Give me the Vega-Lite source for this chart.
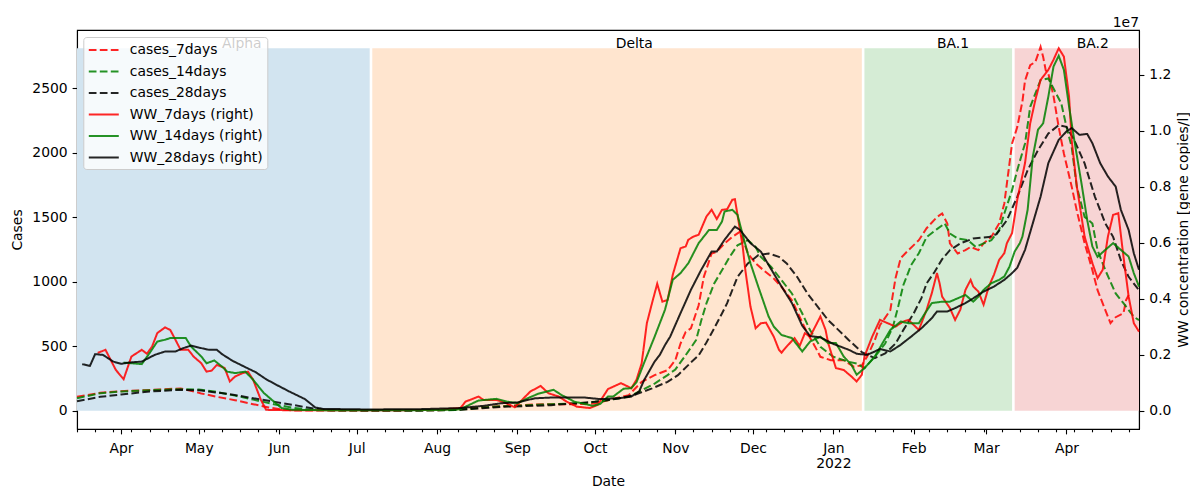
{
"$schema":"https://vega.github.io/schema/vega-lite/v6.json",
"width":1062,"height":399,
"autosize":{"type":"none"},
"padding":{"left":77,"top":30,"right":51,"bottom":59},
"background":"white",
"config":{
 "font":"DejaVu Sans",
 "view":{"stroke":"#000","strokeWidth":1.1},
 "axis":{"labelFontSize":13.9,"titleFontSize":13.9,"titleFontWeight":"normal","labelColor":"#000","titleColor":"#000","tickColor":"#000","domainColor":"#000","grid":false,"tickWidth":1.1,"domainWidth":1.1,"labelFont":"DejaVu Sans","titleFont":"DejaVu Sans","labelFlush":false,"labelOverlap":false,"labelBound":false,"zindex":1},
 "legend":{"labelFontSize":13.9,"labelFont":"DejaVu Sans","labelColor":"#000"}
},
"title":{"text":"1e7","anchor":"end","frame":"group","fontSize":13.9,"fontWeight":"normal","font":"DejaVu Sans","color":"#000","offset":3,"baseline":"bottom","dy":17},
"datasets":{
"spans":[
{"variant":"Alpha","start":"2021-03-15","end":"2021-07-06","mid":"2021-05-10"},
{"variant":"Delta","start":"2021-07-07","end":"2022-01-12","mid":"2021-10-09"},
{"variant":"BA.1","start":"2022-01-13","end":"2022-03-11","mid":"2022-02-10"},
{"variant":"BA.2","start":"2022-03-12","end":"2022-04-29","mid":"2022-04-05"}
],
"cases":[
{"s":"cases_7days","d":"2021-03-15","v":109},{"s":"cases_7days","d":"2021-03-24","v":140},{"s":"cases_7days","d":"2021-04-01","v":153},{"s":"cases_7days","d":"2021-04-10","v":160},{"s":"cases_7days","d":"2021-04-16","v":166},{"s":"cases_7days","d":"2021-04-24","v":174},{"s":"cases_7days","d":"2021-04-28","v":155},{"s":"cases_7days","d":"2021-05-02","v":135},{"s":"cases_7days","d":"2021-05-08","v":109},{"s":"cases_7days","d":"2021-05-15","v":83},{"s":"cases_7days","d":"2021-05-22","v":52},{"s":"cases_7days","d":"2021-05-28","v":26},{"s":"cases_7days","d":"2021-06-02","v":11},{"s":"cases_7days","d":"2021-06-07","v":3},{"s":"cases_7days","d":"2021-06-20","v":2},{"s":"cases_7days","d":"2021-07-05","v":2},{"s":"cases_7days","d":"2021-07-20","v":3},{"s":"cases_7days","d":"2021-08-05","v":6},{"s":"cases_7days","d":"2021-08-13","v":19},{"s":"cases_7days","d":"2021-08-26","v":36},{"s":"cases_7days","d":"2021-09-08","v":50},{"s":"cases_7days","d":"2021-09-17","v":52},{"s":"cases_7days","d":"2021-09-23","v":52},{"s":"cases_7days","d":"2021-10-01","v":57},{"s":"cases_7days","d":"2021-10-06","v":83},{"s":"cases_7days","d":"2021-10-14","v":122},{"s":"cases_7days","d":"2021-10-19","v":225},{"s":"cases_7days","d":"2021-10-24","v":277},{"s":"cases_7days","d":"2021-10-29","v":316},{"s":"cases_7days","d":"2021-11-01","v":393},{"s":"cases_7days","d":"2021-11-03","v":522},{"s":"cases_7days","d":"2021-11-05","v":612},{"s":"cases_7days","d":"2021-11-07","v":639},{"s":"cases_7days","d":"2021-11-10","v":819},{"s":"cases_7days","d":"2021-11-12","v":1039},{"s":"cases_7days","d":"2021-11-15","v":1220},{"s":"cases_7days","d":"2021-11-17","v":1233},{"s":"cases_7days","d":"2021-11-20","v":1298},{"s":"cases_7days","d":"2021-11-23","v":1349},{"s":"cases_7days","d":"2021-11-26","v":1390},{"s":"cases_7days","d":"2021-11-29","v":1220},{"s":"cases_7days","d":"2021-12-02","v":1143},{"s":"cases_7days","d":"2021-12-05","v":1091},{"s":"cases_7days","d":"2021-12-09","v":1026},{"s":"cases_7days","d":"2021-12-12","v":961},{"s":"cases_7days","d":"2021-12-16","v":858},{"s":"cases_7days","d":"2021-12-19","v":729},{"s":"cases_7days","d":"2021-12-22","v":600},{"s":"cases_7days","d":"2021-12-25","v":496},{"s":"cases_7days","d":"2021-12-27","v":419},{"s":"cases_7days","d":"2021-12-31","v":393},{"s":"cases_7days","d":"2022-01-05","v":393},{"s":"cases_7days","d":"2022-01-09","v":341},{"s":"cases_7days","d":"2022-01-12","v":354},{"s":"cases_7days","d":"2022-01-14","v":419},{"s":"cases_7days","d":"2022-01-17","v":548},{"s":"cases_7days","d":"2022-01-19","v":664},{"s":"cases_7days","d":"2022-01-23","v":781},{"s":"cases_7days","d":"2022-01-25","v":1029},{"s":"cases_7days","d":"2022-01-27","v":1184},{"s":"cases_7days","d":"2022-01-30","v":1246},{"s":"cases_7days","d":"2022-02-03","v":1323},{"s":"cases_7days","d":"2022-02-06","v":1416},{"s":"cases_7days","d":"2022-02-10","v":1502},{"s":"cases_7days","d":"2022-02-12","v":1530},{"s":"cases_7days","d":"2022-02-14","v":1453},{"s":"cases_7days","d":"2022-02-15","v":1298},{"s":"cases_7days","d":"2022-02-18","v":1220},{"s":"cases_7days","d":"2022-02-21","v":1246},{"s":"cases_7days","d":"2022-02-23","v":1271},{"s":"cases_7days","d":"2022-02-26","v":1246},{"s":"cases_7days","d":"2022-02-28","v":1298},{"s":"cases_7days","d":"2022-03-03","v":1349},{"s":"cases_7days","d":"2022-03-06","v":1453},{"s":"cases_7days","d":"2022-03-08","v":1608},{"s":"cases_7days","d":"2022-03-10","v":1918},{"s":"cases_7days","d":"2022-03-11","v":2073},{"s":"cases_7days","d":"2022-03-13","v":2200},{"s":"cases_7days","d":"2022-03-15","v":2400},{"s":"cases_7days","d":"2022-03-16","v":2560},{"s":"cases_7days","d":"2022-03-18","v":2680},{"s":"cases_7days","d":"2022-03-20","v":2705},{"s":"cases_7days","d":"2022-03-22","v":2822},{"s":"cases_7days","d":"2022-03-23","v":2744},{"s":"cases_7days","d":"2022-03-24","v":2640},{"s":"cases_7days","d":"2022-03-25","v":2616},{"s":"cases_7days","d":"2022-03-27","v":2440},{"s":"cases_7days","d":"2022-03-29","v":2200},{"s":"cases_7days","d":"2022-03-31","v":1995},{"s":"cases_7days","d":"2022-04-03","v":1740},{"s":"cases_7days","d":"2022-04-05","v":1550},{"s":"cases_7days","d":"2022-04-08","v":1300},{"s":"cases_7days","d":"2022-04-11","v":1091},{"s":"cases_7days","d":"2022-04-13","v":936},{"s":"cases_7days","d":"2022-04-16","v":781},{"s":"cases_7days","d":"2022-04-18","v":680},{"s":"cases_7days","d":"2022-04-20","v":726},{"s":"cases_7days","d":"2022-04-23","v":757},{"s":"cases_7days","d":"2022-04-24","v":858},{"s":"cases_7days","d":"2022-04-25","v":897},
{"s":"cases_14days","d":"2021-03-15","v":98},{"s":"cases_14days","d":"2021-03-24","v":137},{"s":"cases_14days","d":"2021-04-01","v":150},{"s":"cases_14days","d":"2021-04-12","v":160},{"s":"cases_14days","d":"2021-04-22","v":168},{"s":"cases_14days","d":"2021-05-01","v":166},{"s":"cases_14days","d":"2021-05-07","v":150},{"s":"cases_14days","d":"2021-05-15","v":118},{"s":"cases_14days","d":"2021-05-22","v":87},{"s":"cases_14days","d":"2021-05-30","v":52},{"s":"cases_14days","d":"2021-06-06","v":25},{"s":"cases_14days","d":"2021-06-13","v":9},{"s":"cases_14days","d":"2021-06-25","v":3},{"s":"cases_14days","d":"2021-07-10","v":2},{"s":"cases_14days","d":"2021-07-25","v":3},{"s":"cases_14days","d":"2021-08-08","v":6},{"s":"cases_14days","d":"2021-08-20","v":29},{"s":"cases_14days","d":"2021-08-26","v":36},{"s":"cases_14days","d":"2021-09-14","v":52},{"s":"cases_14days","d":"2021-09-28","v":62},{"s":"cases_14days","d":"2021-10-06","v":83},{"s":"cases_14days","d":"2021-10-14","v":109},{"s":"cases_14days","d":"2021-10-19","v":160},{"s":"cases_14days","d":"2021-10-24","v":212},{"s":"cases_14days","d":"2021-10-29","v":277},{"s":"cases_14days","d":"2021-11-01","v":321},{"s":"cases_14days","d":"2021-11-05","v":432},{"s":"cases_14days","d":"2021-11-09","v":548},{"s":"cases_14days","d":"2021-11-11","v":700},{"s":"cases_14days","d":"2021-11-13","v":833},{"s":"cases_14days","d":"2021-11-16","v":988},{"s":"cases_14days","d":"2021-11-19","v":1090},{"s":"cases_14days","d":"2021-11-22","v":1194},{"s":"cases_14days","d":"2021-11-25","v":1284},{"s":"cases_14days","d":"2021-11-29","v":1323},{"s":"cases_14days","d":"2021-12-02","v":1271},{"s":"cases_14days","d":"2021-12-04","v":1194},{"s":"cases_14days","d":"2021-12-08","v":1116},{"s":"cases_14days","d":"2021-12-12","v":1013},{"s":"cases_14days","d":"2021-12-16","v":910},{"s":"cases_14days","d":"2021-12-20","v":755},{"s":"cases_14days","d":"2021-12-23","v":626},{"s":"cases_14days","d":"2021-12-27","v":496},{"s":"cases_14days","d":"2022-01-01","v":419},{"s":"cases_14days","d":"2022-01-07","v":380},{"s":"cases_14days","d":"2022-01-10","v":367},{"s":"cases_14days","d":"2022-01-13","v":331},{"s":"cases_14days","d":"2022-01-17","v":419},{"s":"cases_14days","d":"2022-01-21","v":522},{"s":"cases_14days","d":"2022-01-24","v":651},{"s":"cases_14days","d":"2022-01-26","v":806},{"s":"cases_14days","d":"2022-01-28","v":974},{"s":"cases_14days","d":"2022-01-31","v":1129},{"s":"cases_14days","d":"2022-02-03","v":1222},{"s":"cases_14days","d":"2022-02-06","v":1347},{"s":"cases_14days","d":"2022-02-10","v":1409},{"s":"cases_14days","d":"2022-02-13","v":1453},{"s":"cases_14days","d":"2022-02-15","v":1375},{"s":"cases_14days","d":"2022-02-18","v":1336},{"s":"cases_14days","d":"2022-02-22","v":1323},{"s":"cases_14days","d":"2022-02-25","v":1271},{"s":"cases_14days","d":"2022-02-28","v":1298},{"s":"cases_14days","d":"2022-03-03","v":1323},{"s":"cases_14days","d":"2022-03-06","v":1401},{"s":"cases_14days","d":"2022-03-08","v":1530},{"s":"cases_14days","d":"2022-03-11","v":1711},{"s":"cases_14days","d":"2022-03-13","v":1866},{"s":"cases_14days","d":"2022-03-16","v":2073},{"s":"cases_14days","d":"2022-03-18","v":2357},{"s":"cases_14days","d":"2022-03-20","v":2461},{"s":"cases_14days","d":"2022-03-22","v":2564},{"s":"cases_14days","d":"2022-03-25","v":2577},{"s":"cases_14days","d":"2022-03-27","v":2499},{"s":"cases_14days","d":"2022-03-30","v":2383},{"s":"cases_14days","d":"2022-04-01","v":2202},{"s":"cases_14days","d":"2022-04-03","v":2047},{"s":"cases_14days","d":"2022-04-05","v":1736},{"s":"cases_14days","d":"2022-04-08","v":1504},{"s":"cases_14days","d":"2022-04-11","v":1453},{"s":"cases_14days","d":"2022-04-13","v":1246},{"s":"cases_14days","d":"2022-04-16","v":1091},{"s":"cases_14days","d":"2022-04-20","v":910},{"s":"cases_14days","d":"2022-04-23","v":835},{"s":"cases_14days","d":"2022-04-27","v":729},{"s":"cases_14days","d":"2022-04-29","v":703},
{"s":"cases_28days","d":"2021-03-15","v":75},{"s":"cases_28days","d":"2021-03-24","v":109},{"s":"cases_28days","d":"2021-04-01","v":127},{"s":"cases_28days","d":"2021-04-12","v":150},{"s":"cases_28days","d":"2021-04-24","v":163},{"s":"cases_28days","d":"2021-05-02","v":158},{"s":"cases_28days","d":"2021-05-13","v":129},{"s":"cases_28days","d":"2021-05-25","v":88},{"s":"cases_28days","d":"2021-06-06","v":47},{"s":"cases_28days","d":"2021-06-15","v":16},{"s":"cases_28days","d":"2021-06-21","v":5},{"s":"cases_28days","d":"2021-07-10","v":3},{"s":"cases_28days","d":"2021-07-25","v":3},{"s":"cases_28days","d":"2021-08-10","v":8},{"s":"cases_28days","d":"2021-08-26","v":31},{"s":"cases_28days","d":"2021-09-14","v":44},{"s":"cases_28days","d":"2021-10-01","v":70},{"s":"cases_28days","d":"2021-10-10","v":96},{"s":"cases_28days","d":"2021-10-16","v":122},{"s":"cases_28days","d":"2021-10-23","v":174},{"s":"cases_28days","d":"2021-10-29","v":225},{"s":"cases_28days","d":"2021-11-02","v":277},{"s":"cases_28days","d":"2021-11-07","v":375},{"s":"cases_28days","d":"2021-11-10","v":430},{"s":"cases_28days","d":"2021-11-13","v":530},{"s":"cases_28days","d":"2021-11-16","v":640},{"s":"cases_28days","d":"2021-11-19","v":755},{"s":"cases_28days","d":"2021-11-21","v":835},{"s":"cases_28days","d":"2021-11-25","v":1039},{"s":"cases_28days","d":"2021-11-29","v":1143},{"s":"cases_28days","d":"2021-12-03","v":1207},{"s":"cases_28days","d":"2021-12-07","v":1220},{"s":"cases_28days","d":"2021-12-11","v":1194},{"s":"cases_28days","d":"2021-12-14","v":1143},{"s":"cases_28days","d":"2021-12-18","v":1039},{"s":"cases_28days","d":"2021-12-22","v":910},{"s":"cases_28days","d":"2021-12-26","v":806},{"s":"cases_28days","d":"2021-12-30","v":703},{"s":"cases_28days","d":"2022-01-03","v":626},{"s":"cases_28days","d":"2022-01-07","v":548},{"s":"cases_28days","d":"2022-01-12","v":455},{"s":"cases_28days","d":"2022-01-17","v":409},{"s":"cases_28days","d":"2022-01-21","v":445},{"s":"cases_28days","d":"2022-01-25","v":522},{"s":"cases_28days","d":"2022-01-28","v":626},{"s":"cases_28days","d":"2022-02-01","v":755},{"s":"cases_28days","d":"2022-02-04","v":874},{"s":"cases_28days","d":"2022-02-06","v":988},{"s":"cases_28days","d":"2022-02-09","v":1075},{"s":"cases_28days","d":"2022-02-12","v":1176},{"s":"cases_28days","d":"2022-02-15","v":1246},{"s":"cases_28days","d":"2022-02-19","v":1298},{"s":"cases_28days","d":"2022-02-24","v":1336},{"s":"cases_28days","d":"2022-03-02","v":1347},{"s":"cases_28days","d":"2022-03-05","v":1370},{"s":"cases_28days","d":"2022-03-09","v":1478},{"s":"cases_28days","d":"2022-03-13","v":1659},{"s":"cases_28days","d":"2022-03-17","v":1866},{"s":"cases_28days","d":"2022-03-21","v":2021},{"s":"cases_28days","d":"2022-03-25","v":2150},{"s":"cases_28days","d":"2022-03-29","v":2215},{"s":"cases_28days","d":"2022-04-01","v":2202},{"s":"cases_28days","d":"2022-04-04","v":2099},{"s":"cases_28days","d":"2022-04-08","v":1918},{"s":"cases_28days","d":"2022-04-12","v":1659},{"s":"cases_28days","d":"2022-04-16","v":1453},{"s":"cases_28days","d":"2022-04-19","v":1349},{"s":"cases_28days","d":"2022-04-22","v":1168},{"s":"cases_28days","d":"2022-04-25","v":1039},{"s":"cases_28days","d":"2022-04-29","v":936}
],
"ww":[
{"s":"WW_7days","d":"2021-03-23","v":2070000},{"s":"WW_7days","d":"2021-03-26","v":2180000},{"s":"WW_7days","d":"2021-03-30","v":1460000},{"s":"WW_7days","d":"2021-04-02","v":1130000},{"s":"WW_7days","d":"2021-04-05","v":1940000},{"s":"WW_7days","d":"2021-04-09","v":2180000},{"s":"WW_7days","d":"2021-04-11","v":2040000},{"s":"WW_7days","d":"2021-04-13","v":2300000},{"s":"WW_7days","d":"2021-04-15","v":2780000},{"s":"WW_7days","d":"2021-04-18","v":2980000},{"s":"WW_7days","d":"2021-04-20","v":2890000},{"s":"WW_7days","d":"2021-04-22","v":2540000},{"s":"WW_7days","d":"2021-04-24","v":2180000},{"s":"WW_7days","d":"2021-04-27","v":2180000},{"s":"WW_7days","d":"2021-04-29","v":1940000},{"s":"WW_7days","d":"2021-05-02","v":1700000},{"s":"WW_7days","d":"2021-05-04","v":1400000},{"s":"WW_7days","d":"2021-05-06","v":1440000},{"s":"WW_7days","d":"2021-05-08","v":1640000},{"s":"WW_7days","d":"2021-05-11","v":1530000},{"s":"WW_7days","d":"2021-05-13","v":1050000},{"s":"WW_7days","d":"2021-05-15","v":1225000},{"s":"WW_7days","d":"2021-05-18","v":1350000},{"s":"WW_7days","d":"2021-05-20","v":1400000},{"s":"WW_7days","d":"2021-05-22","v":1110000},{"s":"WW_7days","d":"2021-05-25","v":390000},{"s":"WW_7days","d":"2021-05-27","v":40000},{"s":"WW_7days","d":"2021-05-29","v":30000},{"s":"WW_7days","d":"2021-06-10","v":20000},{"s":"WW_7days","d":"2021-06-25","v":20000},{"s":"WW_7days","d":"2021-07-10","v":20000},{"s":"WW_7days","d":"2021-07-25","v":30000},{"s":"WW_7days","d":"2021-08-02","v":40000},{"s":"WW_7days","d":"2021-08-10","v":100000},{"s":"WW_7days","d":"2021-08-12","v":330000},{"s":"WW_7days","d":"2021-08-17","v":510000},{"s":"WW_7days","d":"2021-08-19","v":390000},{"s":"WW_7days","d":"2021-08-24","v":390000},{"s":"WW_7days","d":"2021-08-27","v":300000},{"s":"WW_7days","d":"2021-08-31","v":130000},{"s":"WW_7days","d":"2021-09-06","v":690000},{"s":"WW_7days","d":"2021-09-10","v":890000},{"s":"WW_7days","d":"2021-09-13","v":630000},{"s":"WW_7days","d":"2021-09-17","v":510000},{"s":"WW_7days","d":"2021-09-20","v":330000},{"s":"WW_7days","d":"2021-09-24","v":150000},{"s":"WW_7days","d":"2021-09-29","v":100000},{"s":"WW_7days","d":"2021-10-02","v":210000},{"s":"WW_7days","d":"2021-10-06","v":780000},{"s":"WW_7days","d":"2021-10-11","v":990000},{"s":"WW_7days","d":"2021-10-15","v":810000},{"s":"WW_7days","d":"2021-10-17","v":1110000},{"s":"WW_7days","d":"2021-10-19","v":1700000},{"s":"WW_7days","d":"2021-10-21","v":3130000},{"s":"WW_7days","d":"2021-10-23","v":3850000},{"s":"WW_7days","d":"2021-10-25","v":4540000},{"s":"WW_7days","d":"2021-10-27","v":3900000},{"s":"WW_7days","d":"2021-10-29","v":3960000},{"s":"WW_7days","d":"2021-10-31","v":4860000},{"s":"WW_7days","d":"2021-11-03","v":5810000},{"s":"WW_7days","d":"2021-11-05","v":5870000},{"s":"WW_7days","d":"2021-11-06","v":6110000},{"s":"WW_7days","d":"2021-11-08","v":6225000},{"s":"WW_7days","d":"2021-11-10","v":6290000},{"s":"WW_7days","d":"2021-11-13","v":6940000},{"s":"WW_7days","d":"2021-11-15","v":7180000},{"s":"WW_7days","d":"2021-11-17","v":6850000},{"s":"WW_7days","d":"2021-11-19","v":7180000},{"s":"WW_7days","d":"2021-11-21","v":7200000},{"s":"WW_7days","d":"2021-11-23","v":7540000},{"s":"WW_7days","d":"2021-11-24","v":7560000},{"s":"WW_7days","d":"2021-11-27","v":5870000},{"s":"WW_7days","d":"2021-11-28","v":5040000},{"s":"WW_7days","d":"2021-11-30","v":3725000},{"s":"WW_7days","d":"2021-12-02","v":2950000},{"s":"WW_7days","d":"2021-12-04","v":3130000},{"s":"WW_7days","d":"2021-12-06","v":3150000},{"s":"WW_7days","d":"2021-12-09","v":2650000},{"s":"WW_7days","d":"2021-12-11","v":2180000},{"s":"WW_7days","d":"2021-12-12","v":2080000},{"s":"WW_7days","d":"2021-12-14","v":2300000},{"s":"WW_7days","d":"2021-12-17","v":2600000},{"s":"WW_7days","d":"2021-12-19","v":2320000},{"s":"WW_7days","d":"2021-12-21","v":2775000},{"s":"WW_7days","d":"2021-12-23","v":2650000},{"s":"WW_7days","d":"2021-12-27","v":3370000},{"s":"WW_7days","d":"2021-12-29","v":2890000},{"s":"WW_7days","d":"2021-12-30","v":2420000},{"s":"WW_7days","d":"2022-01-02","v":1525000},{"s":"WW_7days","d":"2022-01-05","v":1460000},{"s":"WW_7days","d":"2022-01-08","v":1225000},{"s":"WW_7days","d":"2022-01-10","v":1050000},{"s":"WW_7days","d":"2022-01-12","v":1290000},{"s":"WW_7days","d":"2022-01-13","v":1940000},{"s":"WW_7days","d":"2022-01-16","v":2650000},{"s":"WW_7days","d":"2022-01-19","v":3250000},{"s":"WW_7days","d":"2022-01-25","v":3010000},{"s":"WW_7days","d":"2022-01-28","v":3190000},{"s":"WW_7days","d":"2022-01-30","v":3250000},{"s":"WW_7days","d":"2022-02-03","v":2890000},{"s":"WW_7days","d":"2022-02-06","v":3610000},{"s":"WW_7days","d":"2022-02-08","v":4200000},{"s":"WW_7days","d":"2022-02-10","v":4920000},{"s":"WW_7days","d":"2022-02-11","v":4560000},{"s":"WW_7days","d":"2022-02-12","v":4080000},{"s":"WW_7days","d":"2022-02-15","v":3670000},{"s":"WW_7days","d":"2022-02-17","v":3250000},{"s":"WW_7days","d":"2022-02-19","v":3610000},{"s":"WW_7days","d":"2022-02-21","v":4320000},{"s":"WW_7days","d":"2022-02-23","v":4680000},{"s":"WW_7days","d":"2022-02-24","v":4440000},{"s":"WW_7days","d":"2022-02-26","v":4260000},{"s":"WW_7days","d":"2022-02-28","v":3790000},{"s":"WW_7days","d":"2022-03-02","v":4440000},{"s":"WW_7days","d":"2022-03-04","v":4860000},{"s":"WW_7days","d":"2022-03-06","v":5390000},{"s":"WW_7days","d":"2022-03-08","v":5630000},{"s":"WW_7days","d":"2022-03-09","v":5990000},{"s":"WW_7days","d":"2022-03-11","v":6350000},{"s":"WW_7days","d":"2022-03-13","v":7540000},{"s":"WW_7days","d":"2022-03-16","v":8850000},{"s":"WW_7days","d":"2022-03-18","v":10275000},{"s":"WW_7days","d":"2022-03-20","v":11110000},{"s":"WW_7days","d":"2022-03-22","v":11820000},{"s":"WW_7days","d":"2022-03-25","v":12180000},{"s":"WW_7days","d":"2022-03-27","v":12540000},{"s":"WW_7days","d":"2022-03-29","v":12950000},{"s":"WW_7days","d":"2022-03-31","v":12650000},{"s":"WW_7days","d":"2022-04-02","v":11225000},{"s":"WW_7days","d":"2022-04-03","v":9680000},{"s":"WW_7days","d":"2022-04-05","v":8010000},{"s":"WW_7days","d":"2022-04-08","v":6225000},{"s":"WW_7days","d":"2022-04-11","v":5275000},{"s":"WW_7days","d":"2022-04-13","v":4740000},{"s":"WW_7days","d":"2022-04-15","v":5040000},{"s":"WW_7days","d":"2022-04-17","v":6225000},{"s":"WW_7days","d":"2022-04-19","v":7000000},{"s":"WW_7days","d":"2022-04-21","v":7060000},{"s":"WW_7days","d":"2022-04-23","v":5510000},{"s":"WW_7days","d":"2022-04-25","v":4080000},{"s":"WW_7days","d":"2022-04-27","v":3130000},{"s":"WW_7days","d":"2022-04-29","v":2830000},
{"s":"WW_14days","d":"2021-04-02","v":1725000},{"s":"WW_14days","d":"2021-04-05","v":1700000},{"s":"WW_14days","d":"2021-04-09","v":1670000},{"s":"WW_14days","d":"2021-04-12","v":2060000},{"s":"WW_14days","d":"2021-04-15","v":2475000},{"s":"WW_14days","d":"2021-04-18","v":2540000},{"s":"WW_14days","d":"2021-04-20","v":2600000},{"s":"WW_14days","d":"2021-04-26","v":2600000},{"s":"WW_14days","d":"2021-04-28","v":2300000},{"s":"WW_14days","d":"2021-05-02","v":1940000},{"s":"WW_14days","d":"2021-05-04","v":1700000},{"s":"WW_14days","d":"2021-05-07","v":1800000},{"s":"WW_14days","d":"2021-05-10","v":1580000},{"s":"WW_14days","d":"2021-05-12","v":1400000},{"s":"WW_14days","d":"2021-05-15","v":1350000},{"s":"WW_14days","d":"2021-05-19","v":1400000},{"s":"WW_14days","d":"2021-05-22","v":1110000},{"s":"WW_14days","d":"2021-05-26","v":650000},{"s":"WW_14days","d":"2021-05-30","v":330000},{"s":"WW_14days","d":"2021-06-02","v":100000},{"s":"WW_14days","d":"2021-06-06","v":40000},{"s":"WW_14days","d":"2021-06-20","v":20000},{"s":"WW_14days","d":"2021-07-05","v":20000},{"s":"WW_14days","d":"2021-07-20","v":20000},{"s":"WW_14days","d":"2021-08-08","v":40000},{"s":"WW_14days","d":"2021-08-10","v":60000},{"s":"WW_14days","d":"2021-08-17","v":370000},{"s":"WW_14days","d":"2021-08-24","v":430000},{"s":"WW_14days","d":"2021-08-28","v":330000},{"s":"WW_14days","d":"2021-09-01","v":275000},{"s":"WW_14days","d":"2021-09-05","v":450000},{"s":"WW_14days","d":"2021-09-09","v":610000},{"s":"WW_14days","d":"2021-09-15","v":750000},{"s":"WW_14days","d":"2021-09-18","v":570000},{"s":"WW_14days","d":"2021-09-23","v":330000},{"s":"WW_14days","d":"2021-09-30","v":180000},{"s":"WW_14days","d":"2021-10-03","v":250000},{"s":"WW_14days","d":"2021-10-06","v":510000},{"s":"WW_14days","d":"2021-10-08","v":510000},{"s":"WW_14days","d":"2021-10-12","v":790000},{"s":"WW_14days","d":"2021-10-15","v":810000},{"s":"WW_14days","d":"2021-10-17","v":1020000},{"s":"WW_14days","d":"2021-10-20","v":1730000},{"s":"WW_14days","d":"2021-10-24","v":2650000},{"s":"WW_14days","d":"2021-10-25","v":2890000},{"s":"WW_14days","d":"2021-10-28","v":3610000},{"s":"WW_14days","d":"2021-10-31","v":4680000},{"s":"WW_14days","d":"2021-11-03","v":4920000},{"s":"WW_14days","d":"2021-11-06","v":5270000},{"s":"WW_14days","d":"2021-11-10","v":5990000},{"s":"WW_14days","d":"2021-11-14","v":6460000},{"s":"WW_14days","d":"2021-11-17","v":6460000},{"s":"WW_14days","d":"2021-11-19","v":6760000},{"s":"WW_14days","d":"2021-11-20","v":7120000},{"s":"WW_14days","d":"2021-11-23","v":7180000},{"s":"WW_14days","d":"2021-11-25","v":7000000},{"s":"WW_14days","d":"2021-11-27","v":6290000},{"s":"WW_14days","d":"2021-11-30","v":5270000},{"s":"WW_14days","d":"2021-12-03","v":4440000},{"s":"WW_14days","d":"2021-12-07","v":3370000},{"s":"WW_14days","d":"2021-12-09","v":3010000},{"s":"WW_14days","d":"2021-12-12","v":2710000},{"s":"WW_14days","d":"2021-12-16","v":2600000},{"s":"WW_14days","d":"2021-12-20","v":2120000},{"s":"WW_14days","d":"2021-12-23","v":2475000},{"s":"WW_14days","d":"2021-12-27","v":2650000},{"s":"WW_14days","d":"2021-12-30","v":2420000},{"s":"WW_14days","d":"2022-01-02","v":2420000},{"s":"WW_14days","d":"2022-01-05","v":1940000},{"s":"WW_14days","d":"2022-01-08","v":1640000},{"s":"WW_14days","d":"2022-01-10","v":1290000},{"s":"WW_14days","d":"2022-01-13","v":1525000},{"s":"WW_14days","d":"2022-01-17","v":1940000},{"s":"WW_14days","d":"2022-01-20","v":2420000},{"s":"WW_14days","d":"2022-01-23","v":2890000},{"s":"WW_14days","d":"2022-01-27","v":3190000},{"s":"WW_14days","d":"2022-01-30","v":3130000},{"s":"WW_14days","d":"2022-02-03","v":3130000},{"s":"WW_14days","d":"2022-02-05","v":3430000},{"s":"WW_14days","d":"2022-02-08","v":3850000},{"s":"WW_14days","d":"2022-02-12","v":3900000},{"s":"WW_14days","d":"2022-02-15","v":3900000},{"s":"WW_14days","d":"2022-02-18","v":4020000},{"s":"WW_14days","d":"2022-02-21","v":4140000},{"s":"WW_14days","d":"2022-02-24","v":3900000},{"s":"WW_14days","d":"2022-02-26","v":4080000},{"s":"WW_14days","d":"2022-02-28","v":4320000},{"s":"WW_14days","d":"2022-03-03","v":4560000},{"s":"WW_14days","d":"2022-03-06","v":4680000},{"s":"WW_14days","d":"2022-03-08","v":4800000},{"s":"WW_14days","d":"2022-03-10","v":5150000},{"s":"WW_14days","d":"2022-03-12","v":5690000},{"s":"WW_14days","d":"2022-03-14","v":5990000},{"s":"WW_14days","d":"2022-03-15","v":6225000},{"s":"WW_14days","d":"2022-03-17","v":7180000},{"s":"WW_14days","d":"2022-03-19","v":9080000},{"s":"WW_14days","d":"2022-03-21","v":10040000},{"s":"WW_14days","d":"2022-03-23","v":10270000},{"s":"WW_14days","d":"2022-03-25","v":11225000},{"s":"WW_14days","d":"2022-03-27","v":12300000},{"s":"WW_14days","d":"2022-03-29","v":12680000},{"s":"WW_14days","d":"2022-03-31","v":12180000},{"s":"WW_14days","d":"2022-04-02","v":10870000},{"s":"WW_14days","d":"2022-04-04","v":9680000},{"s":"WW_14days","d":"2022-04-07","v":8010000},{"s":"WW_14days","d":"2022-04-09","v":6820000},{"s":"WW_14days","d":"2022-04-11","v":5870000},{"s":"WW_14days","d":"2022-04-13","v":5500000},{"s":"WW_14days","d":"2022-04-16","v":5750000},{"s":"WW_14days","d":"2022-04-19","v":5990000},{"s":"WW_14days","d":"2022-04-22","v":5750000},{"s":"WW_14days","d":"2022-04-25","v":5510000},{"s":"WW_14days","d":"2022-04-27","v":4920000},{"s":"WW_14days","d":"2022-04-29","v":4440000},
{"s":"WW_28days","d":"2021-03-17","v":1668000},{"s":"WW_28days","d":"2021-03-20","v":1607000},{"s":"WW_28days","d":"2021-03-22","v":2025000},{"s":"WW_28days","d":"2021-03-25","v":2000000},{"s":"WW_28days","d":"2021-03-29","v":1760000},{"s":"WW_28days","d":"2021-04-01","v":1680000},{"s":"WW_28days","d":"2021-04-04","v":1725000},{"s":"WW_28days","d":"2021-04-09","v":1760000},{"s":"WW_28days","d":"2021-04-14","v":2000000},{"s":"WW_28days","d":"2021-04-18","v":2120000},{"s":"WW_28days","d":"2021-04-22","v":2120000},{"s":"WW_28days","d":"2021-04-25","v":2240000},{"s":"WW_28days","d":"2021-04-28","v":2330000},{"s":"WW_28days","d":"2021-05-01","v":2260000},{"s":"WW_28days","d":"2021-05-05","v":2180000},{"s":"WW_28days","d":"2021-05-08","v":2180000},{"s":"WW_28days","d":"2021-05-10","v":2025000},{"s":"WW_28days","d":"2021-05-14","v":1790000},{"s":"WW_28days","d":"2021-05-19","v":1560000},{"s":"WW_28days","d":"2021-05-23","v":1380000},{"s":"WW_28days","d":"2021-05-27","v":1130000},{"s":"WW_28days","d":"2021-05-31","v":930000},{"s":"WW_28days","d":"2021-06-05","v":690000},{"s":"WW_28days","d":"2021-06-11","v":420000},{"s":"WW_28days","d":"2021-06-15","v":120000},{"s":"WW_28days","d":"2021-06-18","v":70000},{"s":"WW_28days","d":"2021-07-05","v":50000},{"s":"WW_28days","d":"2021-07-25","v":60000},{"s":"WW_28days","d":"2021-08-10","v":100000},{"s":"WW_28days","d":"2021-08-19","v":180000},{"s":"WW_28days","d":"2021-08-26","v":275000},{"s":"WW_28days","d":"2021-09-01","v":300000},{"s":"WW_28days","d":"2021-09-05","v":390000},{"s":"WW_28days","d":"2021-09-08","v":450000},{"s":"WW_28days","d":"2021-09-14","v":475000},{"s":"WW_28days","d":"2021-09-27","v":475000},{"s":"WW_28days","d":"2021-10-03","v":420000},{"s":"WW_28days","d":"2021-10-10","v":450000},{"s":"WW_28days","d":"2021-10-15","v":510000},{"s":"WW_28days","d":"2021-10-18","v":690000},{"s":"WW_28days","d":"2021-10-20","v":1110000},{"s":"WW_28days","d":"2021-10-24","v":1760000},{"s":"WW_28days","d":"2021-10-26","v":2000000},{"s":"WW_28days","d":"2021-10-28","v":2350000},{"s":"WW_28days","d":"2021-10-30","v":2650000},{"s":"WW_28days","d":"2021-11-03","v":3490000},{"s":"WW_28days","d":"2021-11-07","v":4320000},{"s":"WW_28days","d":"2021-11-11","v":5040000},{"s":"WW_28days","d":"2021-11-15","v":5690000},{"s":"WW_28days","d":"2021-11-17","v":5690000},{"s":"WW_28days","d":"2021-11-20","v":6110000},{"s":"WW_28days","d":"2021-11-22","v":6350000},{"s":"WW_28days","d":"2021-11-24","v":6580000},{"s":"WW_28days","d":"2021-11-26","v":6460000},{"s":"WW_28days","d":"2021-11-30","v":5990000},{"s":"WW_28days","d":"2021-12-04","v":5690000},{"s":"WW_28days","d":"2021-12-07","v":5210000},{"s":"WW_28days","d":"2021-12-12","v":4440000},{"s":"WW_28days","d":"2021-12-16","v":3850000},{"s":"WW_28days","d":"2021-12-20","v":3040000},{"s":"WW_28days","d":"2021-12-23","v":2670000},{"s":"WW_28days","d":"2021-12-27","v":2625000},{"s":"WW_28days","d":"2022-01-01","v":2390000},{"s":"WW_28days","d":"2022-01-07","v":2180000},{"s":"WW_28days","d":"2022-01-10","v":2040000},{"s":"WW_28days","d":"2022-01-14","v":2000000},{"s":"WW_28days","d":"2022-01-17","v":2120000},{"s":"WW_28days","d":"2022-01-19","v":2210000},{"s":"WW_28days","d":"2022-01-23","v":2120000},{"s":"WW_28days","d":"2022-01-27","v":2360000},{"s":"WW_28days","d":"2022-01-31","v":2650000},{"s":"WW_28days","d":"2022-02-04","v":2950000},{"s":"WW_28days","d":"2022-02-08","v":3310000},{"s":"WW_28days","d":"2022-02-10","v":3550000},{"s":"WW_28days","d":"2022-02-14","v":3550000},{"s":"WW_28days","d":"2022-02-17","v":3670000},{"s":"WW_28days","d":"2022-02-21","v":3850000},{"s":"WW_28days","d":"2022-02-24","v":4020000},{"s":"WW_28days","d":"2022-02-28","v":4260000},{"s":"WW_28days","d":"2022-03-04","v":4440000},{"s":"WW_28days","d":"2022-03-08","v":4680000},{"s":"WW_28days","d":"2022-03-11","v":4920000},{"s":"WW_28days","d":"2022-03-13","v":5110000},{"s":"WW_28days","d":"2022-03-16","v":5750000},{"s":"WW_28days","d":"2022-03-19","v":6700000},{"s":"WW_28days","d":"2022-03-22","v":7650000},{"s":"WW_28days","d":"2022-03-25","v":8850000},{"s":"WW_28days","d":"2022-03-29","v":9680000},{"s":"WW_28days","d":"2022-04-01","v":9980000},{"s":"WW_28days","d":"2022-04-03","v":10100000},{"s":"WW_28days","d":"2022-04-06","v":9860000},{"s":"WW_28days","d":"2022-04-09","v":9890000},{"s":"WW_28days","d":"2022-04-11","v":9560000},{"s":"WW_28days","d":"2022-04-14","v":8850000},{"s":"WW_28days","d":"2022-04-17","v":8370000},{"s":"WW_28days","d":"2022-04-20","v":8010000},{"s":"WW_28days","d":"2022-04-22","v":7180000},{"s":"WW_28days","d":"2022-04-25","v":6460000},{"s":"WW_28days","d":"2022-04-27","v":5630000},{"s":"WW_28days","d":"2022-04-29","v":5040000}
]
},
"layer":[
{"data":{"name":"spans"},
 "mark":{"type":"rect"},
 "encoding":{
  "x":{"field":"start","type":"temporal","scale":{"type":"utc","nice":false,"domain":[{"year":2021,"month":3,"date":15,"utc":true},{"year":2022,"month":4,"date":29,"utc":true}]},
   "axis":{"orient":"bottom","values":[1615766400000,1616371200000,1616976000000,1617580800000,1618185600000,1618790400000,1619395200000,1620000000000,1620604800000,1621209600000,1621814400000,1622419200000,1623024000000,1623628800000,1624233600000,1624838400000,1625443200000,1626048000000,1626652800000,1627257600000,1627862400000,1628467200000,1629072000000,1629676800000,1630281600000,1630886400000,1631491200000,1632096000000,1632700800000,1633305600000,1633910400000,1634515200000,1635120000000,1635724800000,1636329600000,1636934400000,1637539200000,1638144000000,1638748800000,1639353600000,1639958400000,1640563200000,1641168000000,1641772800000,1642377600000,1642982400000,1643587200000,1644192000000,1644796800000,1645401600000,1646006400000,1646611200000,1647216000000,1647820800000,1648425600000,1649030400000,1649635200000,1650240000000,1650844800000],"labels":false,"domain":false,"tickSize":2.8,"title":null}},
  "x2":{"field":"end"},
  "y":{"datum":0,"type":"quantitative","scale":{"domain":[-140.6,2952.6],"nice":false,"zero":false},"axis":null},
  "y2":{"datum":2812},
  "fill":{"field":"variant","type":"nominal","scale":{"domain":["Alpha","Delta","BA.1","BA.2"],"range":["#d2e4f0","#ffe5cf","#d5ecd5","#f7d4d4"]},"legend":null}
 }},
{"data":{"name":"spans"},
 "mark":{"type":"text","align":"left","baseline":"alphabetic","fontSize":13.9,"color":"#000","font":"DejaVu Sans"},
 "encoding":{
  "x":{"field":"mid","type":"temporal","axis":null},
  "y":{"datum":2812,"type":"quantitative","scale":{"domain":[-140.6,2952.6],"nice":false,"zero":false},"axis":null},
  "text":{"field":"variant"}
 }},
{"data":{"name":"cases"},
 "mark":{"type":"line","strokeWidth":2},
 "encoding":{
  "x":{"field":"d","type":"temporal",
   "axis":{"orient":"bottom","values":[{"year":2021,"month":4,"date":1,"utc":true},{"year":2021,"month":5,"date":1,"utc":true},{"year":2021,"month":6,"date":1,"utc":true},{"year":2021,"month":7,"date":1,"utc":true},{"year":2021,"month":8,"date":1,"utc":true},{"year":2021,"month":9,"date":1,"utc":true},{"year":2021,"month":10,"date":1,"utc":true},{"year":2021,"month":11,"date":1,"utc":true},{"year":2021,"month":12,"date":1,"utc":true},{"year":2022,"month":1,"date":1,"utc":true},{"year":2022,"month":2,"date":1,"utc":true},{"year":2022,"month":3,"date":1,"utc":true},{"year":2022,"month":4,"date":1,"utc":true}],
    "labelExpr":"utcmonth(datum.value) == 0 ? [utcFormat(datum.value, '%b'), utcFormat(datum.value, '%Y')] : utcFormat(datum.value, '%b')",
    "tickSize":4.9,"labelPadding":8,"labelLineHeight":15,"domain":true,"title":"Date","titleX":531,"titleY":52,"titleBaseline":"middle","titleAlign":"center"}},
  "y":{"field":"v","type":"quantitative","scale":{"domain":[-140.6,2952.6],"nice":false,"zero":false},
   "axis":{"orient":"left","values":[0,500,1000,1500,2000,2500],"format":"d","tickSize":4.9,"labelPadding":4.9,"domain":true,"title":"Cases","titleAngle":270,"titleX":-59.5,"titleY":199.5,"titleBaseline":"middle","titleAlign":"center"}},
  "color":{"field":"s","type":"nominal","scale":{"domain":["cases_7days","cases_14days","cases_28days","WW_7days","WW_14days","WW_28days"],"range":["#ff0000","#008000","#000000","#ff0000","#008000","#000000"]},
   "legend":{"title":null,"orient":"none","legendX":6.3,"legendY":7,"fillColor":"rgba(255,255,255,0.8)","strokeColor":"#cccccc","cornerRadius":3,"padding":4.5,"rowPadding":5.5,"symbolType":"M-1,0H3","symbolSize":225,"symbolStrokeWidth":2,"labelOffset":25,"labelFontSize":13.9,"zindex":2,"labelExpr":"substring(datum.label, 0, 2) == 'WW' ? datum.label + ' (right)' : datum.label"}},
  "strokeDash":{"field":"s","type":"nominal","scale":{"domain":["cases_7days","cases_14days","cases_28days","WW_7days","WW_14days","WW_28days"],"range":[[7.7,3.3],[7.7,3.3],[7.7,3.3],[1,0],[1,0],[1,0]]},
   "legend":{"title":null,"orient":"none","legendX":6.3,"legendY":7,"fillColor":"rgba(255,255,255,0.8)","strokeColor":"#cccccc","cornerRadius":3,"padding":4.5,"rowPadding":5.5,"symbolType":"M-1,0H3","symbolSize":225,"symbolStrokeWidth":2,"labelOffset":25,"labelFontSize":13.9,"zindex":2,"labelExpr":"substring(datum.label, 0, 2) == 'WW' ? datum.label + ' (right)' : datum.label"}},
  "opacity":{"field":"s","type":"nominal","scale":{"domain":["cases_7days","cases_14days","cases_28days","WW_7days","WW_14days","WW_28days"],"range":[0.85,0.85,0.85,1,1,1]},
   "legend":{"title":null,"orient":"none","legendX":6.3,"legendY":7,"fillColor":"rgba(255,255,255,0.8)","strokeColor":"#cccccc","cornerRadius":3,"padding":4.5,"rowPadding":5.5,"symbolType":"M-1,0H3","symbolSize":225,"symbolStrokeWidth":2,"labelOffset":25,"labelFontSize":13.9,"zindex":2,"labelExpr":"substring(datum.label, 0, 2) == 'WW' ? datum.label + ' (right)' : datum.label"}}
 }},
{"data":{"name":"ww"},
 "mark":{"type":"line","strokeWidth":2},
 "encoding":{
  "x":{"field":"d","type":"temporal","axis":null},
  "y":{"field":"v","type":"quantitative","scale":{"domain":[-647750,13602750],"nice":false,"zero":false},
   "axis":{"orient":"right","values":[0,2000000,4000000,6000000,8000000,10000000,12000000],"labelExpr":"format(datum.value / 10000000, '.1f')","tickSize":4.9,"labelPadding":4.9,"domain":true,"title":"WW concentration [gene copies/l]","titleAngle":270,"titleX":44,"titleY":199.5,"titleBaseline":"middle","titleAlign":"center"}},
  "color":{"field":"s","type":"nominal"},
  "strokeDash":{"field":"s","type":"nominal"},
  "opacity":{"field":"s","type":"nominal"}
 }}
],
"resolve":{"scale":{"y":"independent"},"axis":{"x":"independent"}}
}
